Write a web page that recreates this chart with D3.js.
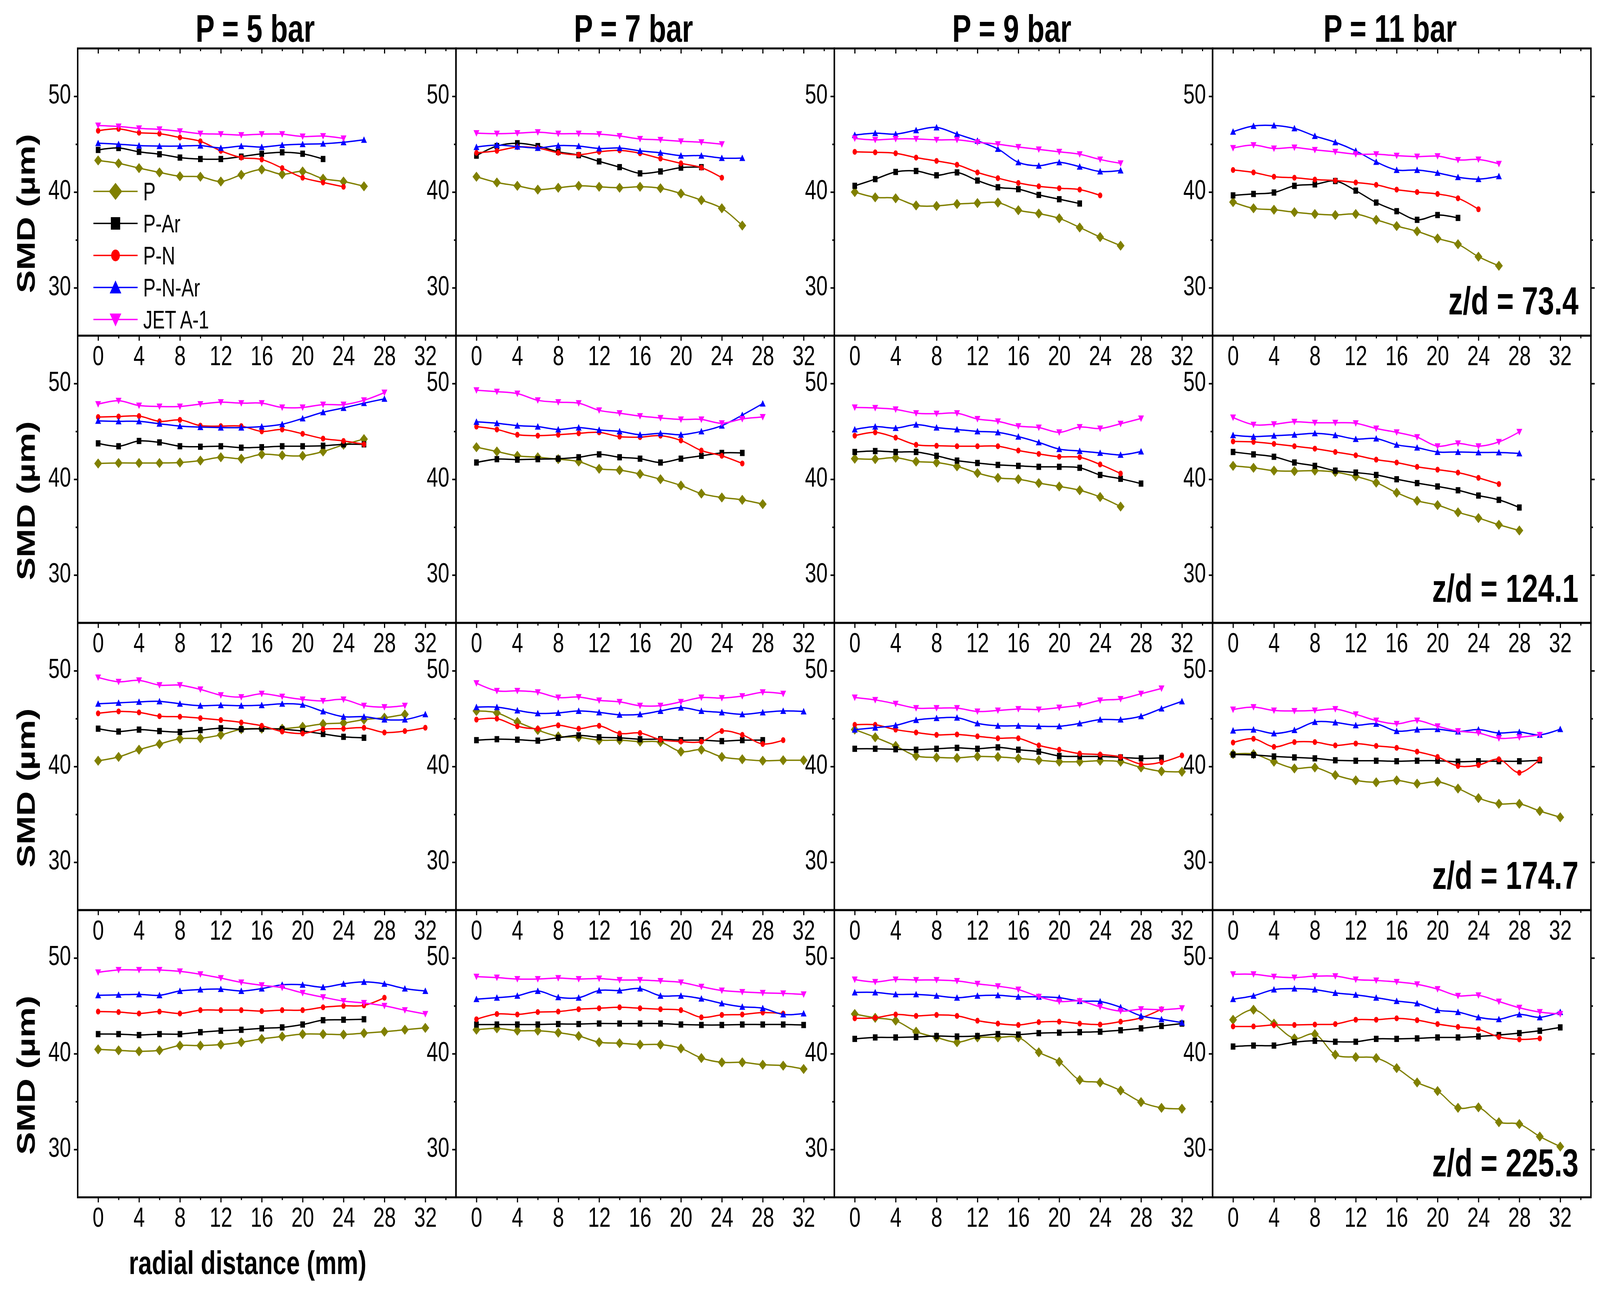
<!DOCTYPE html>
<html><head><meta charset="utf-8">
<script src="https://cdn.jsdelivr.net/npm/d3@7"></script>
<style>
html,body{margin:0;padding:0;background:#fff;overflow:hidden;width:100%;height:100%}
svg{display:block;width:100vw;height:100vh}
text{font-family:"Liberation Sans",Arial,sans-serif}
</style>
</head><body>
<svg id="chart" viewBox="0 0 5499 3308" preserveAspectRatio="none"></svg>
<script>
// ---------------- data ----------------
const pressureTitles = ["P = 5 bar", "P = 7 bar", "P = 9 bar", "P = 11 bar"];
const zdLabels = ["z/d = 73.4", "z/d = 124.1", "z/d = 174.7", "z/d = 225.3"];
const seriesNames = ["P", "P-Ar", "P-N", "P-N-Ar", "JET A-1"];
const seriesColors = ["#808000", "#000000", "#ff0000", "#0000ff", "#ff00ff"];
const seriesMarkers = ["diamond", "square", "circle", "triangleUp", "triangleDown"];
const radial = [0, 2, 4, 6, 8, 10, 12, 14, 16, 18, 20, 22, 24, 26, 28, 30, 32];
const xTickLabels = [0, 4, 8, 12, 16, 20, 24, 28, 32];
const xMinorTicks = [2, 6, 10, 14, 18, 22, 26, 30, 34];
const yTickLabels = [30, 40, 50];
const yMinorTicks = [35, 45];

// z/d = 73.4  (each: [5 bar, 7 bar, 9 bar, 11 bar])
const P_zd73 = [
  [43.3, 43.0, 42.5, 42.05, 41.65, 41.6, 41.1, 41.8, 42.35, 41.85, 42.15, 41.4, 41.1, 40.6],
  [41.6, 41.0, 40.65, 40.25, 40.45, 40.65, 40.55, 40.45, 40.55, 40.4, 39.85, 39.15, 38.3, 36.5],
  [40.0, 39.45, 39.35, 38.6, 38.55, 38.75, 38.85, 38.9, 38.1, 37.75, 37.25, 36.3, 35.3, 34.4],
  [38.95, 38.3, 38.15, 37.9, 37.7, 37.6, 37.7, 37.1, 36.45, 35.9, 35.15, 34.55, 33.25, 32.3]];
const PAr_zd73 = [
  [44.4, 44.6, 44.2, 43.95, 43.6, 43.45, 43.45, 43.7, 44.0, 44.15, 44.0, 43.45],
  [43.8, 44.8, 45.1, 44.8, 44.2, 43.85, 43.2, 42.6, 41.95, 42.15, 42.55, 42.6],
  [40.65, 41.35, 42.1, 42.2, 41.75, 42.05, 41.2, 40.5, 40.3, 39.7, 39.25, 38.8],
  [39.65, 39.8, 39.95, 40.65, 40.8, 41.15, 40.15, 38.9, 38.0, 37.1, 37.6, 37.3]];
const PN_zd73 = [
  [46.4, 46.6, 46.2, 46.1, 45.7, 45.3, 44.3, 43.6, 43.4, 42.5, 41.5, 41.0, 40.55],
  [44.1, 44.3, 44.7, 44.6, 44.1, 43.9, 44.2, 44.35, 44.05, 43.5, 43.0, 42.55, 41.5],
  [44.2, 44.15, 44.05, 43.6, 43.25, 42.85, 42.05, 41.45, 40.95, 40.6, 40.4, 40.25, 39.65],
  [42.3, 42.05, 41.6, 41.5, 41.3, 41.2, 41.0, 40.75, 40.25, 40.0, 39.8, 39.35, 38.2]];
const PNAr_zd73 = [
  [45.1, 45.0, 44.85, 44.8, 44.8, 44.85, 44.6, 44.8, 44.7, 44.9, 45.0, 45.05, 45.2, 45.45],
  [44.7, 44.9, 44.75, 44.6, 44.85, 44.8, 44.55, 44.6, 44.3, 44.1, 43.8, 43.8, 43.55, 43.55],
  [45.95, 46.15, 46.05, 46.45, 46.75, 46.05, 45.35, 44.5, 43.1, 42.75, 43.1, 42.65, 42.15, 42.25],
  [46.3, 46.9, 46.95, 46.65, 45.85, 45.2, 44.3, 43.15, 42.3, 42.3, 42.0, 41.55, 41.35, 41.65]];
const JET_zd73 = [
  [46.95, 46.85, 46.65, 46.55, 46.35, 46.1, 46.05, 45.95, 46.05, 46.05, 45.8, 45.85, 45.6],
  [46.15, 46.1, 46.15, 46.25, 46.1, 46.1, 46.05, 45.85, 45.55, 45.45, 45.3, 45.2, 45.0],
  [45.6, 45.45, 45.55, 45.55, 45.45, 45.45, 45.2, 45.0, 44.7, 44.45, 44.2, 43.95, 43.4, 43.0],
  [44.6, 44.9, 44.55, 44.65, 44.4, 44.2, 43.95, 43.95, 43.8, 43.7, 43.75, 43.35, 43.4, 42.95]];

// z/d = 124.1
const P_zd124 = [
  [41.65, 41.7, 41.7, 41.7, 41.75, 41.95, 42.3, 42.15, 42.6, 42.5, 42.45, 42.9, 43.6, 44.2],
  [43.35, 42.9, 42.45, 42.3, 42.1, 41.85, 41.1, 40.95, 40.55, 40.0, 39.35, 38.5, 38.1, 37.85, 37.4],
  [42.15, 42.1, 42.25, 41.85, 41.75, 41.35, 40.65, 40.15, 40.0, 39.6, 39.25, 38.85, 38.15, 37.15],
  [41.4, 41.2, 40.9, 40.85, 40.9, 40.75, 40.3, 39.65, 38.6, 37.75, 37.3, 36.55, 35.95, 35.25, 34.65]];
const PAr_zd124 = [
  [43.75, 43.45, 44.0, 43.85, 43.45, 43.4, 43.45, 43.3, 43.35, 43.45, 43.45, 43.5, 43.65, 43.65],
  [41.75, 42.1, 42.05, 42.1, 42.15, 42.3, 42.6, 42.3, 42.15, 41.75, 42.15, 42.45, 42.75, 42.75],
  [42.85, 42.95, 42.85, 42.85, 42.45, 41.95, 41.7, 41.5, 41.4, 41.3, 41.3, 41.2, 40.45, 40.05, 39.55],
  [42.85, 42.6, 42.35, 41.75, 41.4, 40.9, 40.7, 40.45, 40.0, 39.6, 39.25, 38.85, 38.3, 37.85, 37.05]];
const PN_zd124 = [
  [46.5, 46.55, 46.6, 46.05, 46.2, 45.6, 45.55, 45.55, 45.0, 45.2, 44.75, 44.25, 44.0, 43.65],
  [45.5, 45.2, 44.65, 44.55, 44.65, 44.8, 44.9, 44.45, 44.4, 44.55, 44.05, 43.0, 42.45, 41.65],
  [44.55, 44.9, 44.35, 43.6, 43.5, 43.45, 43.45, 43.45, 43.0, 42.65, 42.35, 42.3, 41.55, 40.6],
  [43.95, 43.9, 43.7, 43.45, 43.2, 42.85, 42.5, 42.05, 41.75, 41.3, 41.0, 40.7, 40.15, 39.5]];
const PNAr_zd124 = [
  [46.1, 46.05, 46.05, 45.8, 45.55, 45.45, 45.4, 45.4, 45.5, 45.75, 46.35, 47.0, 47.45, 47.95, 48.4],
  [46.0, 45.85, 45.6, 45.5, 45.2, 45.4, 45.15, 45.0, 44.65, 44.8, 44.65, 45.0, 45.6, 46.7, 47.9],
  [45.2, 45.5, 45.35, 45.7, 45.4, 45.2, 45.0, 44.9, 44.45, 43.85, 43.15, 42.95, 42.75, 42.55, 42.9],
  [44.6, 44.45, 44.55, 44.65, 44.8, 44.6, 44.2, 44.25, 43.6, 43.3, 42.85, 42.85, 42.8, 42.8, 42.7]];
const JET_zd124 = [
  [47.85, 48.2, 47.7, 47.6, 47.6, 47.85, 48.05, 47.95, 47.95, 47.5, 47.5, 47.8, 47.8, 48.25, 49.05],
  [49.3, 49.15, 48.95, 48.25, 48.05, 47.95, 47.2, 46.9, 46.6, 46.4, 46.25, 46.25, 45.85, 46.3, 46.5],
  [47.5, 47.45, 47.3, 46.9, 46.85, 46.9, 46.3, 46.05, 45.55, 45.4, 44.9, 45.45, 45.3, 45.8, 46.35],
  [46.45, 45.7, 45.75, 46.0, 45.9, 45.9, 45.85, 45.3, 44.9, 44.4, 43.45, 43.75, 43.45, 43.9, 44.95]];

// z/d = 174.7
const P_zd174 = [
  [40.6, 41.0, 41.75, 42.35, 42.9, 42.95, 43.3, 43.9, 43.95, 43.95, 44.15, 44.45, 44.55, 44.9, 45.1, 45.45],
  [45.8, 45.6, 44.65, 43.8, 43.15, 43.05, 42.75, 42.75, 42.6, 42.55, 41.55, 41.75, 41.0, 40.75, 40.6, 40.65, 40.65],
  [43.85, 43.05, 42.15, 41.1, 40.95, 40.9, 41.05, 41.0, 40.85, 40.65, 40.5, 40.5, 40.6, 40.5, 39.9, 39.5, 39.45],
  [41.3, 41.3, 40.5, 39.8, 39.9, 39.1, 38.55, 38.35, 38.55, 38.2, 38.4, 37.7, 36.7, 36.1, 36.1, 35.35, 34.7]];
const PAr_zd174 = [
  [43.95, 43.65, 43.85, 43.7, 43.6, 43.8, 44.0, 43.9, 43.95, 43.9, 43.7, 43.4, 43.1, 43.0],
  [42.75, 42.85, 42.8, 42.7, 43.0, 43.25, 43.05, 43.0, 42.85, 42.85, 42.75, 42.75, 42.65, 42.75, 42.75],
  [41.85, 41.85, 41.8, 41.75, 41.85, 41.95, 41.85, 42.0, 41.75, 41.55, 41.1, 41.05, 41.05, 40.95, 40.85, 40.9],
  [41.25, 41.2, 41.05, 40.95, 40.85, 40.65, 40.6, 40.6, 40.55, 40.6, 40.6, 40.5, 40.55, 40.55, 40.55, 40.65]];
const PN_zd174 = [
  [45.55, 45.75, 45.65, 45.25, 45.2, 45.05, 44.85, 44.6, 44.25, 43.65, 43.45, 43.9, 43.95, 44.05, 43.55, 43.7, 44.05],
  [44.9, 45.0, 44.2, 43.95, 44.3, 43.95, 44.25, 43.45, 43.5, 42.8, 42.6, 42.6, 43.7, 43.3, 42.35, 42.75],
  [44.35, 44.35, 43.85, 43.55, 43.3, 43.35, 43.15, 42.95, 42.95, 42.2, 41.75, 41.35, 41.25, 41.0, 40.25, 40.45, 41.15],
  [42.5, 42.9, 42.05, 42.55, 42.55, 42.2, 42.4, 42.15, 41.95, 41.55, 41.0, 40.05, 40.15, 40.75, 39.35, 40.75]];
const PNAr_zd174 = [
  [46.55, 46.65, 46.75, 46.8, 46.55, 46.35, 46.4, 46.35, 46.4, 46.55, 46.45, 45.75, 45.2, 45.2, 44.9, 44.9, 45.45],
  [46.2, 46.2, 45.85, 45.55, 45.6, 45.8, 45.65, 45.4, 45.45, 45.8, 46.15, 45.8, 45.65, 45.45, 45.65, 45.8, 45.75],
  [43.85, 44.05, 44.3, 44.85, 45.05, 45.1, 44.5, 44.25, 44.25, 44.2, 44.2, 44.5, 44.9, 44.9, 45.25, 46.05, 46.8],
  [43.75, 43.85, 43.45, 43.8, 44.65, 44.6, 44.3, 44.45, 43.7, 43.85, 43.9, 43.65, 43.85, 43.5, 43.6, 43.3, 43.9]];
const JET_zd174 = [
  [49.3, 48.85, 49.0, 48.5, 48.5, 48.05, 47.45, 47.25, 47.6, 47.3, 47.0, 46.85, 47.0, 46.35, 46.2, 46.35],
  [48.7, 47.9, 47.9, 47.75, 47.2, 47.25, 46.9, 46.75, 46.35, 46.35, 46.75, 47.2, 47.15, 47.35, 47.75, 47.6],
  [47.2, 46.95, 46.55, 46.1, 46.1, 46.1, 45.75, 45.85, 46.0, 45.95, 46.15, 46.4, 46.9, 47.05, 47.6, 48.15],
  [45.95, 46.2, 45.85, 45.8, 45.85, 46.0, 45.45, 44.8, 44.45, 44.8, 44.2, 43.7, 43.5, 42.95, 43.05, 43.3]];

// z/d = 225.3
const P_zd225 = [
  [40.45, 40.35, 40.25, 40.35, 40.85, 40.85, 40.95, 41.2, 41.55, 41.8, 42.05, 42.05, 42.0, 42.15, 42.3, 42.5, 42.7],
  [42.5, 42.65, 42.4, 42.4, 42.2, 41.85, 41.2, 41.1, 40.95, 40.95, 40.55, 39.55, 39.1, 39.1, 38.85, 38.75, 38.4],
  [44.15, 43.75, 43.45, 42.3, 41.7, 41.2, 41.7, 41.7, 41.7, 40.15, 39.15, 37.25, 37.0, 36.15, 34.95, 34.35, 34.25],
  [43.55, 44.6, 43.15, 41.6, 42.05, 39.9, 39.65, 39.55, 38.5, 37.0, 36.1, 34.35, 34.4, 32.85, 32.65, 31.35, 30.3]];
const PAr_zd225 = [
  [42.05, 42.05, 41.95, 42.05, 42.05, 42.25, 42.4, 42.5, 42.65, 42.75, 43.05, 43.5, 43.55, 43.6],
  [43.05, 43.05, 43.05, 43.05, 43.1, 43.1, 43.15, 43.15, 43.15, 43.15, 43.05, 43.0, 43.0, 43.05, 43.05, 43.05, 43.0],
  [41.55, 41.7, 41.7, 41.75, 41.85, 41.8, 41.85, 42.05, 42.0, 42.15, 42.2, 42.25, 42.3, 42.45, 42.65, 42.9, 43.15],
  [40.75, 40.85, 40.85, 41.2, 41.35, 41.25, 41.25, 41.55, 41.55, 41.6, 41.7, 41.7, 41.8, 41.95, 42.15, 42.4, 42.75]];
const PN_zd225 = [
  [44.4, 44.35, 44.2, 44.4, 44.2, 44.55, 44.55, 44.55, 44.45, 44.55, 44.55, 44.85, 45.0, 45.05, 45.85],
  [43.6, 44.15, 44.1, 44.35, 44.4, 44.65, 44.75, 44.85, 44.75, 44.65, 44.55, 43.8, 44.05, 44.1, 44.3, 44.2],
  [43.7, 43.75, 44.1, 43.95, 44.05, 43.95, 43.45, 43.15, 43.0, 43.3, 43.35, 43.15, 43.05, 43.35, 43.75, 44.65],
  [42.85, 42.85, 43.0, 43.0, 43.05, 43.1, 43.55, 43.55, 43.7, 43.5, 43.1, 42.8, 42.55, 41.75, 41.5, 41.6]];
const PNAr_zd225 = [
  [46.1, 46.15, 46.2, 46.1, 46.55, 46.7, 46.75, 46.55, 46.8, 47.2, 47.2, 46.95, 47.3, 47.5, 47.3, 46.8, 46.55],
  [45.7, 45.85, 46.05, 46.55, 45.9, 45.85, 46.6, 46.6, 46.8, 46.05, 46.05, 45.75, 45.25, 44.9, 44.75, 44.1, 44.2],
  [46.4, 46.4, 46.2, 46.2, 46.05, 45.85, 46.05, 46.1, 45.95, 45.95, 45.85, 45.5, 45.45, 44.85, 43.95, 43.6, 43.25],
  [45.7, 46.05, 46.7, 46.8, 46.7, 46.35, 46.15, 45.85, 45.5, 45.25, 44.55, 44.35, 43.8, 43.6, 44.1, 43.8, 44.35]];
const JET_zd225 = [
  [48.5, 48.75, 48.75, 48.75, 48.6, 48.3, 47.9, 47.45, 47.15, 46.9, 46.35, 45.9, 45.5, 45.3, 45.0, 44.55, 44.15],
  [48.05, 47.95, 47.8, 47.8, 47.9, 47.8, 47.85, 47.7, 47.7, 47.6, 47.45, 47.0, 46.6, 46.45, 46.35, 46.3, 46.2],
  [47.75, 47.5, 47.75, 47.7, 47.7, 47.6, 47.3, 47.05, 46.7, 45.95, 45.45, 45.5, 44.9, 44.45, 44.65, 44.6, 44.75],
  [48.3, 48.3, 48.05, 47.95, 48.1, 48.1, 47.75, 47.65, 47.5, 47.25, 46.75, 46.05, 46.1, 45.45, 44.8, 44.35, 44.15]];

// rows of the grid: each row lists the five series in legend order
const gridRows = [
  [P_zd73, PAr_zd73, PN_zd73, PNAr_zd73, JET_zd73],
  [P_zd124, PAr_zd124, PN_zd124, PNAr_zd124, JET_zd124],
  [P_zd174, PAr_zd174, PN_zd174, PNAr_zd174, JET_zd174],
  [P_zd225, PAr_zd225, PN_zd225, PNAr_zd225, JET_zd225]];

// ---------------- layout ----------------
const svg = d3.select("#chart");
const L0 = 267, PW = 1300.2, T0 = 124, PH = 735.4;
const FONT = '"Liberation Sans", Arial, sans-serif';

function markerPath(type, k) {
  switch (type) {
    case "diamond": { const w = 13.5 * k, h = 13 * k; return `M0,${-h}L${w},0L0,${h}L${-w},0Z`; }
    case "square": { const s = 8 * k; return `M${-s},${-s}H${s}V${s}H${-s}Z`; }
    case "circle": { const r = 7.5 * k; return `M${-r},0A${r},${r} 0 1,0 ${r},0A${r},${r} 0 1,0 ${-r},0Z`; }
    case "triangleUp": { const w = 10 * k, h = 9 * k; return `M0,${-h}L${w},${h * 0.85}L${-w},${h * 0.85}Z`; }
    case "triangleDown": { const w = 10 * k, h = 9 * k; return `M0,${h}L${w},${-h * 0.85}L${-w},${-h * 0.85}Z`; }
  }
}

const line = d3.line().curve(d3.curveCatmullRom.alpha(0.5));

function styleTicks(sel) {
  sel.select(".domain").remove();
  sel.selectAll("line").attr("stroke", "#000").attr("stroke-width", 4);
  return sel;
}

gridRows.forEach((rowSeries, r) => {
  const y0 = T0 + r * PH;
  pressureTitles.forEach((title, c) => {
    const x0 = L0 + c * PW;
    const x = d3.scaleLinear().domain([-2, 35]).range([x0, x0 + PW]);
    const y = d3.scaleLinear().domain([25, 55]).range([y0 + PH, y0]);
    const g = svg.append("g");

    // series lines and markers
    rowSeries.forEach((seriesData, s) => {
      const vals = seriesData[c];
      const pts = vals.map((v, i) => [x(radial[i]), y(v)]);
      g.append("path").attr("d", line(pts)).attr("fill", "none")
        .attr("stroke", seriesColors[s]).attr("stroke-width", 3.5);
      g.selectAll(null).data(pts).enter().append("path")
        .attr("d", markerPath(seriesMarkers[s], 1))
        .attr("transform", d => `translate(${d[0]},${d[1]})`)
        .attr("fill", seriesColors[s]);
    });

    // y axis (left), outward ticks
    const ay = styleTicks(g.append("g").attr("transform", `translate(${x0},0)`)
      .call(d3.axisLeft(y).tickValues(yTickLabels).tickSize(13).tickPadding(10)));
    ay.selectAll("text").attr("font-size", 70).attr("font-family", FONT).attr("dy", "0.26em").attr("fill", "#000");
    styleTicks(g.append("g").attr("transform", `translate(${x0},0)`)
      .call(d3.axisLeft(y).tickValues(yMinorTicks).tickSize(7).tickFormat("")));

    if (c === 3) {
      styleTicks(g.append("g").attr("transform", `translate(${x0 + PW},0)`)
        .call(d3.axisRight(y).tickValues(yTickLabels).tickSize(13).tickFormat("")));
      styleTicks(g.append("g").attr("transform", `translate(${x0 + PW},0)`)
        .call(d3.axisRight(y).tickValues(yMinorTicks).tickSize(7).tickFormat("")));
    }

    // x axis at bottom, ticks pointing down, labels below
    const ax = styleTicks(g.append("g").attr("transform", `translate(0,${y0 + PH})`)
      .call(d3.axisBottom(x).tickValues(xTickLabels).tickSize(13).tickPadding(13)));
    ax.selectAll("text").attr("font-size", 70).attr("font-family", FONT).attr("fill", "#000");
    styleTicks(g.append("g").attr("transform", `translate(0,${y0 + PH})`)
      .call(d3.axisBottom(x).tickValues(xMinorTicks).tickSize(7).tickFormat("")));

    if (r === 0) {
      styleTicks(g.append("g").attr("transform", `translate(0,${y0})`)
        .call(d3.axisBottom(x).tickValues(xTickLabels).tickSize(13).tickFormat("")));
      styleTicks(g.append("g").attr("transform", `translate(0,${y0})`)
        .call(d3.axisBottom(x).tickValues(xMinorTicks).tickSize(7).tickFormat("")));
      // column title
      svg.append("text").attr("x", x0 + PW / 2 - 40).attr("y", 107)
        .attr("text-anchor", "middle").attr("font-size", 98).attr("font-weight", "bold")
        .attr("font-family", FONT).text(title);
    }

    // panel frame
    g.append("rect").attr("x", x0).attr("y", y0).attr("width", PW).attr("height", PH)
      .attr("fill", "none").attr("stroke", "#000").attr("stroke-width", 5);
  });

  // z/d label
  svg.append("text").attr("x", 5425).attr("y", y0 + PH - 54)
    .attr("text-anchor", "end").attr("font-size", 100).attr("font-weight", "bold")
    .attr("font-family", FONT).text(zdLabels[r]);

  // y axis title
  svg.append("text")
    .attr("transform", `translate(88,${y0 + PH / 2 + 55}) rotate(-90)`)
    .attr("text-anchor", "middle").attr("dy", "0.35em")
    .attr("font-size", 88).attr("font-weight", "bold").attr("font-family", FONT)
    .text("SMD (\u00b5m)");
});

// x axis title
svg.append("text").attr("x", 851).attr("y", 3262).attr("text-anchor", "middle")
  .attr("font-size", 84).attr("font-weight", "bold").attr("font-family", FONT)
  .text("radial distance (mm)");

// legend (inside first panel)
const legend = svg.append("g");
seriesNames.forEach((name, i) => {
  const cy = 490 + i * 82;
  legend.append("line").attr("x1", 321).attr("x2", 473).attr("y1", cy).attr("y2", cy)
    .attr("stroke", seriesColors[i]).attr("stroke-width", 3.5);
  legend.append("path").attr("d", markerPath(seriesMarkers[i], i === 0 ? 1.7 : 2))
    .attr("transform", `translate(397,${cy})`).attr("fill", seriesColors[i]);
  legend.append("text").attr("x", 492).attr("y", cy + 23).attr("font-size", 64)
    .attr("font-family", FONT).text(name);
});
</script>
</body></html>
